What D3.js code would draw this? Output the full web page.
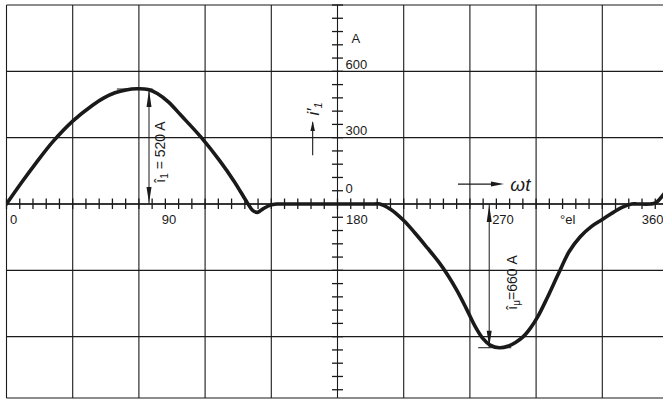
<!DOCTYPE html>
<html><head><meta charset="utf-8">
<script src="https://cdn.jsdelivr.net/npm/d3@7"></script>
<style>
html,body{margin:0;padding:0;background:#fff;}
svg{display:block;}
text{font-family:"Liberation Sans",Arial,sans-serif;fill:#1a1a1a;}
</style></head>
<body>
<svg id="c" width="663" height="400"></svg>
<script>
// ---- data ----
const angleDeg = [0, 8, 16, 25, 36, 47, 53, 59, 65, 71, 77, 82, 88, 95, 106, 116, 124, 131, 134, 136.5, 139.5, 143.5, 147, 150, 200, 203, 209, 216, 222, 229, 235, 240, 245, 250, 255, 259, 263, 268, 273, 277, 281, 285, 289, 294, 300, 306, 312, 318, 324, 330, 335, 340, 343, 350, 353, 357, 362];
const currentA = [0, 95, 185, 280, 375, 448, 480, 503, 516, 521, 518, 500, 462, 400, 300, 195, 100, 5, -30, -38, -22, -5, 0, 0, 0, 0, -25, -75, -130, -200, -262, -322, -392, -472, -556, -608, -638, -650, -642, -625, -600, -560, -508, -425, -318, -215, -148, -102, -70, -38, -14, 0, 0, 0, 5, 40, 100];
const xTickLabels = ["0", "90", "180", "270", "360"];
const xTickValues = [0, 90, 180, 270, 360];
const yTickLabels = ["0", "300", "600"];
const yTickValues = [0, 300, 600];
const peakI1 = 520, peakImu = -650;
const annotI1 = "520 A", annotImu = "660 A";

// ---- layout ----
const W = 663, H = 400;
const ink = "#1a1a1a";
const svg = d3.select("#c");
const x = d3.scaleLinear().domain([0, 360]).range([6.5, 668.5]);
const y = d3.scaleLinear().domain([-900, 900]).range([403, 5]);
const frameBottom = 398;

// grid
const g = svg.append("g").attr("stroke", ink).attr("stroke-width", 1.1);
g.selectAll("line.v").data(d3.range(0, 361, 36)).join("line")
  .attr("x1", d => x(d)).attr("x2", d => x(d)).attr("y1", y(900)).attr("y2", frameBottom);
g.selectAll("line.h").data(d3.range(-600, 901, 300)).join("line")
  .attr("x1", x(0)).attr("x2", x(360)).attr("y1", d => y(d)).attr("y2", d => y(d));
g.append("line").attr("x1", x(0)).attr("x2", x(360)).attr("y1", frameBottom).attr("y2", frameBottom);

// axes
const ax = svg.append("g").attr("stroke", ink).attr("stroke-width", 1.3);
ax.append("line").attr("x1", x(0)).attr("x2", x(360)).attr("y1", y(0)).attr("y2", y(0)).attr("stroke-width", 1.6);
ax.selectAll("line.xt").data(d3.range(0, 51).map(i => i * 7.2)).join("line")
  .attr("x1", d => x(d)).attr("x2", d => x(d)).attr("y1", y(0) - 5.5).attr("y2", y(0) + 5);
ax.selectAll("line.yt").data(d3.range(-15, 16).map(i => i * 60)).join("line")
  .attr("x1", x(180) - 5.5).attr("x2", x(180) + 5.5).attr("y1", d => y(d)).attr("y2", d => y(d));

// x labels
const xLab = [{a:"start",dx:3.5},{a:"middle",dx:-3},{a:"start",dx:8.5},{a:"middle",dx:0},{a:"end",dx:-5}];
svg.selectAll("text.xl").data(xTickValues).join("text")
  .attr("x", (d,i) => x(d) + xLab[i].dx).attr("y", y(0) + 20)
  .attr("text-anchor", (d,i) => xLab[i].a).attr("font-size", 13)
  .text((d,i) => xTickLabels[i]);
svg.append("text").attr("x", x(301)).attr("y", y(0) + 20).attr("font-size", 13).text("°el");

// y labels
const yDy = [-11, -2.5, -2.5];
svg.selectAll("text.yl").data(yTickValues).join("text")
  .attr("x", x(180) + 8).attr("y", (d,i) => y(d) + yDy[i])
  .attr("font-size", 13).text((d,i) => yTickLabels[i]);
svg.append("text").attr("x", x(180) + 14).attr("y", y(720) - 2).attr("font-size", 13).text("A");

// curve
const line = d3.line().x((d,i) => x(angleDeg[i])).y(d => y(d)).curve(d3.curveCatmullRom.alpha(0.5));
svg.append("defs").append("clipPath").attr("id", "clip").append("rect")
  .attr("x", x(0)).attr("y", 0).attr("width", W).attr("height", H);
svg.append("path").datum(currentA).attr("d", line).attr("clip-path", "url(#clip)")
  .attr("fill", "none").attr("stroke", ink).attr("stroke-width", 3.6)
  .attr("stroke-linejoin", "round").attr("stroke-linecap", "round");

// arrowhead helpers
function head(xp, yp, dir, len, wid) {
  return `M${xp},${yp} L${xp - wid/2},${yp - dir*len} L${xp + wid/2},${yp - dir*len} Z`;
}
function headH(xp, yp, len, wid) {
  return `M${xp},${yp} L${xp - len},${yp - wid/2} L${xp - len},${yp + wid/2} Z`;
}

// i1 annotation
const a1x = x(77.5);
svg.append("line").attr("x1", x(60)).attr("x2", x(79.5)).attr("y1", y(peakI1)).attr("y2", y(peakI1)).attr("stroke", ink).attr("stroke-width", 1);
svg.append("line").attr("x1", a1x).attr("x2", a1x).attr("y1", y(peakI1)).attr("y2", y(0)).attr("stroke", ink).attr("stroke-width", 1);
svg.append("path").attr("d", head(a1x, y(peakI1) + 1, -1, 17, 5)).attr("fill", ink);
svg.append("path").attr("d", head(a1x, y(0) - 1, 1, 16, 5)).attr("fill", ink);
const t1 = svg.append("text").attr("font-size", 14).attr("text-anchor", "middle")
  .attr("transform", `translate(${a1x + 16},${y(235)}) rotate(-90)`);
t1.append("tspan").text("î");
t1.append("tspan").attr("font-size", 10).attr("dy", 3).text("1");
t1.append("tspan").attr("dy", -3).text(" = " + annotI1);

// i_mu annotation
const a2x = x(262.5);
svg.append("line").attr("x1", x(256.5)).attr("x2", x(274.5)).attr("y1", y(peakImu)).attr("y2", y(peakImu)).attr("stroke", ink).attr("stroke-width", 1);
svg.append("line").attr("x1", a2x).attr("x2", a2x).attr("y1", y(0)).attr("y2", y(peakImu)).attr("stroke", ink).attr("stroke-width", 1);
svg.append("path").attr("d", head(a2x, y(0) + 1, -1, 17, 5)).attr("fill", ink);
svg.append("path").attr("d", head(a2x, y(peakImu) - 1, 1, 16, 5)).attr("fill", ink);
const t2 = svg.append("text").attr("font-size", 14).attr("text-anchor", "middle")
  .attr("transform", `translate(${a2x + 28},${y(-355)}) rotate(-90)`);
t2.append("tspan").text("î");
t2.append("tspan").attr("font-size", 10).attr("dy", 3).text("μ");
t2.append("tspan").attr("dy", -3).text("=" + annotImu);

// i1' axis title with arrow
const tx = x(166.5);
svg.append("line").attr("x1", tx).attr("x2", tx).attr("y1", y(220)).attr("y2", y(370)).attr("stroke", ink).attr("stroke-width", 1.1);
svg.append("path").attr("d", head(tx, y(375), -1, 10, 4.5)).attr("fill", ink);
const t3 = svg.append("text").attr("font-size", 17).attr("font-style", "italic")
  .attr("font-family", "'Liberation Serif',serif").attr("text-anchor", "middle")
  .attr("transform", `translate(${tx + 6},${y(430)}) rotate(-90)`);
t3.append("tspan").text("i′");
t3.append("tspan").attr("font-size", 11).attr("dy", 3).text("1");

// ωt arrow
svg.append("line").attr("x1", x(245.5)).attr("x2", x(267)).attr("y1", y(90)).attr("y2", y(90)).attr("stroke", ink).attr("stroke-width", 1.3);
svg.append("path").attr("d", headH(x(270.5), y(90), 13, 5)).attr("fill", ink);
svg.append("text").attr("x", x(274)).attr("y", y(60)).attr("font-size", 19).attr("font-style", "italic")
  .attr("font-family", "'Liberation Serif',serif").text("ωt");
</script>
</body></html>
